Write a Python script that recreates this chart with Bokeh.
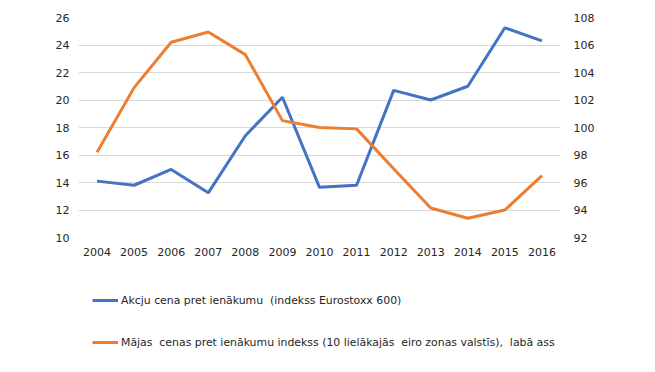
from bokeh.plotting import figure
from bokeh.models import Range1d, LinearAxis, Legend, LegendItem, FixedTicker
from bokeh.layouts import column
from bokeh.embed import file_html
from bokeh.resources import INLINE

years = ["2004", "2005", "2006", "2007", "2008", "2009", "2010",
         "2011", "2012", "2013", "2014", "2015", "2016"]
pe_ratio = [14.1, 13.8, 14.95, 13.25, 17.4, 20.2, 13.65, 13.8, 20.7, 20.0, 21.0, 25.25, 24.3]
house_index = [98.2, 102.9, 106.2, 106.95, 105.3, 100.5, 100.0, 99.9, 97.0, 94.15, 93.4, 94.0, 96.5]
left_ticks = [10, 12, 14, 16, 18, 20, 22, 24, 26]
right_ticks = [92, 94, 96, 98, 100, 102, 104, 106, 108]
label_pe = "Akcju cena pret ienākumu  (indekss Eurostoxx 600)"
label_house = "Mājas  cenas pret ienākumu indekss (10 lielākajās  eiro zonas valstīs),  labā ass"

FONT = "DejaVu Sans"
TXT = "#262626"
BLUE = "#4472C4"
ORANGE = "#ED7D31"

p = figure(x_range=years, y_range=Range1d(10, 26), width=655, height=265,
           output_backend="svg", toolbar_location=None,
           min_border_left=78, min_border_right=95, min_border_top=17,
           min_border_bottom=28)
p.extra_y_ranges = {"right": Range1d(92, 108)}
p.outline_line_color = None

p.line(years, pe_ratio, line_color=BLUE, line_width=3)
p.line(years, house_index, line_color=ORANGE, line_width=3, y_range_name="right")

p.yaxis.ticker = FixedTicker(ticks=left_ticks)
right_axis = LinearAxis(y_range_name="right", ticker=FixedTicker(ticks=right_ticks))
p.add_layout(right_axis, "right")

for ax in p.yaxis + p.xaxis:
    ax.axis_line_color = None
    ax.major_tick_line_color = None
    ax.minor_tick_line_color = None
    ax.major_tick_out = 0
    ax.major_tick_in = 0
    ax.major_label_text_font = FONT
    ax.major_label_text_font_size = "11px"
    ax.major_label_text_color = TXT

p.yaxis[0].major_label_standoff = 9
right_axis.major_label_standoff = 13
p.xaxis.major_label_standoff = 10

p.xgrid.grid_line_color = None
p.ygrid.grid_line_color = "#d9d9d9"
p.ygrid.grid_line_width = 1

# legend panel (its frame is aligned with the main plot's frame by the column layout)
q = figure(width=655, height=105, x_range=Range1d(0, 1), y_range=Range1d(0, 1),
           output_backend="svg", toolbar_location=None,
           min_border_left=78, min_border_right=95, min_border_top=0, min_border_bottom=0)
q.axis.visible = False
q.grid.grid_line_color = None
q.outline_line_color = None
r1 = q.line([-5, -4], [-5, -4], line_color=BLUE, line_width=3)
r2 = q.line([-5, -4], [-5, -4], line_color=ORANGE, line_width=3)

legend = Legend(items=[LegendItem(label=label_pe, renderers=[r1]),
                       LegendItem(label=label_house, renderers=[r2])],
                location=(14, 18), orientation="vertical",
                label_text_font=FONT, label_text_font_size="10.9px",
                label_text_color=TXT, glyph_width=26, glyph_height=20,
                label_height=20, label_standoff=3, spacing=22, padding=0,
                margin=0, border_line_color=None, background_fill_alpha=0)
q.add_layout(legend)

open("out.html", "w").write(file_html(column(p, q, spacing=0), INLINE))
